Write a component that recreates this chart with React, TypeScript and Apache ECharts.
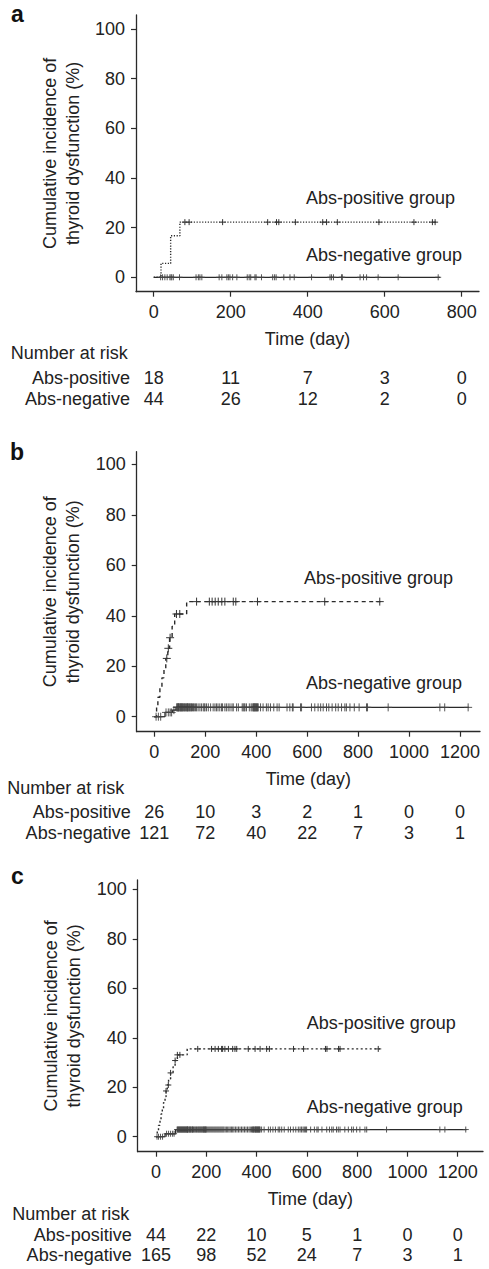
import React, { useEffect, useRef } from 'react';
import * as echarts from 'echarts';

// ---------- DATA ----------
const groupNames = ['Abs-positive', 'Abs-negative'];

// Panel a
const aTicks = [0, 200, 400, 600, 800];
const aPosSteps = [[19, 5.6], [44, 16.7], [68, 22.2]];
const aPosEnd = 735;
const aPosCensor = [81, 92, 179, 296, 319, 325, 368, 439, 449, 477, 585, 676, 724, 731];
const aNegSteps: number[][] = [];
const aNegEnd = 744;
const aNegCensor = [18, 23, 29, 35, 42, 45, 47, 51, 67, 110, 116, 120, 125, 170, 177, 190, 194, 198,
  205, 216, 243, 248, 252, 263, 266, 280, 309, 314, 318, 338, 354, 365,
  410, 458, 462, 467, 488, 490, 536, 545, 553, 583, 635, 739];
const aRiskPos = [18, 11, 7, 3, 0];
const aRiskNeg = [44, 26, 12, 2, 0];

// Panel b
const bTicks = [0, 200, 400, 600, 800, 1000, 1200];
const bPosSteps = [[9, 3.8], [14, 7.7], [22, 11.5], [30, 15.4], [38, 19.2], [45, 23.1], [53, 27.1], [60, 31.3], [70, 35.8], [80, 40.7], [127, 45.6]];
const bPosEnd = 896;
const bPosCensor = [49, 55, 62, 87, 100, 166, 216, 227, 239, 251, 265, 277, 310, 320, 405, 669, 885];
const bNegSteps = [[42, 1.7], [72, 2.6], [85, 3.7]];
const bNegEnd = 1235;
const bNegCensor = [7, 16, 25, 46, 55, 62, 68, 77, 88, 90, 92, 94, 95, 97, 100, 102, 104, 106, 108, 110, 112, 115, 118, 120,
  123, 126, 129, 130, 132, 135, 138, 141, 144, 146, 150, 154, 157, 162, 166, 172, 179, 185, 192, 196, 199,
  205, 212, 221, 231, 238, 244, 250, 257, 264, 268, 277, 283, 290, 297, 305, 310, 323, 330, 345, 349, 353, 356,
  362, 373, 380, 384, 388, 390, 392, 394, 396, 398,
  401, 403, 405, 408, 417, 427, 440, 447, 456, 469, 482, 490, 521, 532, 542, 545, 574, 578,
  617, 630, 643, 653, 663, 676, 685, 698, 712, 722, 735, 748, 754, 768, 785,
  804, 833, 837, 918, 1121, 1140, 1232];
const bRiskPos = [26, 10, 3, 2, 1, 0, 0];
const bRiskNeg = [121, 72, 40, 22, 7, 3, 1];

// Panel c
const cTicks = [0, 200, 400, 600, 800, 1000, 1200];
const cPosSteps = [[5, 2.3], [10, 4.6], [16, 6.9], [20, 9.2], [25, 11.5], [30, 13.8], [36, 16.2], [40, 18.5], [45, 20.9], [50, 23.3], [58, 25.8], [68, 28.3], [76, 30.8], [85, 33.1], [124, 35.5]];
const cPosEnd = 891;
const cPosCensor = [40, 49, 58, 76, 85, 95, 166, 221, 235, 248, 261, 265, 274, 288, 305, 314, 321, 367, 394, 414, 440, 451, 547, 587, 674, 680, 726, 732, 884];
const cNegSteps = [[36, 1.2], [78, 2.9]];
const cNegEnd = 1235;
const cNegCensor = [4, 10, 18, 26, 42, 50, 58, 66, 72,
  84, 86, 88, 90, 92, 94, 96, 98, 100, 102, 104, 106, 108, 110, 112, 114, 116, 118, 120, 122,
  124, 125, 126, 128, 131, 134, 135, 137, 140, 143, 145, 146, 149, 152, 155, 158, 161, 164, 167, 170, 172, 175, 178,
  180, 183, 186, 188, 190, 192, 194, 196, 198, 199,
  202, 206, 210, 214, 218, 222, 226, 230, 234, 238, 242, 246, 250, 254, 258, 262, 266, 270, 275, 280, 285, 290, 295, 300,
  305, 310, 316, 322, 328, 334, 340, 346, 352, 358, 364, 370, 375, 380, 384, 386, 388, 391, 394, 396, 398, 399,
  402, 404, 406, 408, 410, 412, 414, 420, 430, 447, 455, 465, 475, 486, 492, 500, 510, 526, 535, 546, 556, 566, 573, 579, 585, 590, 595, 599,
  615, 630, 640, 645, 660, 679, 690, 699, 705, 718, 725, 732, 751, 765, 778, 785, 798,
  811, 831, 838, 917, 1129, 1149, 1232];
const cRiskPos = [44, 22, 10, 5, 1, 0, 0];
const cRiskNeg = [165, 98, 52, 24, 7, 3, 1];

const yTicks = [0, 20, 40, 60, 80, 100];

// ---------- LAYOUT / STYLE ----------
const FONT = '"Liberation Sans", Arial, Helvetica, sans-serif';
const INK = '#222';
const LINE = '#2a2a2a';
const PLUS = 'path://M5 0L5 10M0 5L10 5';

const panels = [
  {
    letter: 'a', letterY: 15.3, letterX: 11,
    grid: { left: 136, top: 15, width: 343, height: 276.7 },
    x: [-46, 845], y: [-5.8, 105.6], ticks: aTicks,
    risk: { top: 367.8, height: 42 }, nr: [10.7, 352.7],
    posLabel: [306, 198], negLabel: [306, 255],
    pos: { steps: aPosSteps, end: aPosEnd, censor: aPosCensor, dash: [1.2, 1.6] },
    neg: { steps: aNegSteps, end: aNegEnd, censor: aNegCensor },
    riskPos: aRiskPos, riskNeg: aRiskNeg, mark: 6,
  },
  {
    letter: 'b', letterY: 453.7, letterX: 10,
    grid: { left: 136.7, top: 451.7, width: 343.3, height: 280 },
    x: [-69.1, 1278.5], y: [-5.94, 105.0], ticks: bTicks,
    risk: { top: 800.9, height: 43.2 }, nr: [7.3, 788.3],
    posLabel: [304, 577.7], negLabel: [306, 683.3],
    pos: { steps: bPosSteps, end: bPosEnd, censor: bPosCensor, dash: [4, 3.5] },
    neg: { steps: bNegSteps, end: bNegEnd, censor: bNegCensor },
    riskPos: bRiskPos, riskNeg: bRiskNeg, mark: 8,
  },
  {
    letter: 'c', letterY: 877, letterX: 11,
    grid: { left: 137.7, top: 880, width: 345.3, height: 271.7 },
    x: [-72.8, 1300.6], y: [-6.06, 103.8], ticks: cTicks,
    risk: { top: 1225, height: 40 }, nr: [12.3, 1214],
    posLabel: [306.7, 1023.3], negLabel: [306.7, 1107.3],
    pos: { steps: cPosSteps, end: cPosEnd, censor: cPosCensor, dash: [2, 2.5] },
    neg: { steps: cNegSteps, end: cNegEnd, censor: cNegCensor },
    riskPos: cRiskPos, riskNeg: cRiskNeg, mark: 6,
  },
];

function stepAt(steps: number[][], t: number) {
  let v = 0;
  for (const s of steps) if (s[0] <= t) v = s[1];
  return v;
}
function stepLine(steps: number[][], end: number) {
  const last = steps.length ? steps[steps.length - 1][1] : 0;
  return [[0, 0], ...steps, [end, last]];
}

function buildOption() {
  const grid: any[] = [];
  const xAxis: any[] = [];
  const yAxis: any[] = [];
  const series: any[] = [];
  const graphic: any[] = [];
  const txt = { fontFamily: FONT, fontSize: 18, color: INK };
  const plain = (v: number) => String(v);

  panels.forEach((p, i) => {
    const gi = i * 2;
    grid.push({ left: p.grid.left, top: p.grid.top, width: p.grid.width, height: p.grid.height });
    grid.push({ left: p.grid.left, top: p.risk.top, width: p.grid.width, height: p.risk.height });

    xAxis.push({
      gridIndex: gi, type: 'value', min: p.x[0], max: p.x[1],
      axisLine: { show: true, onZero: false, lineStyle: { color: LINE, width: 1.3 } },
      axisTick: { show: true, length: 5, customValues: p.ticks, lineStyle: { color: LINE, width: 1.2 } },
      axisLabel: { customValues: p.ticks, margin: 11, formatter: plain, ...txt },
      splitLine: { show: false },
      name: 'Time (day)', nameLocation: 'middle', nameGap: 38, nameTextStyle: { ...txt },
    });
    xAxis.push({ gridIndex: gi + 1, type: 'value', min: p.x[0], max: p.x[1], show: false });

    yAxis.push({
      gridIndex: gi, type: 'value', min: p.y[0], max: p.y[1],
      axisLine: { show: true, onZero: false, lineStyle: { color: LINE, width: 1.3 } },
      axisTick: { show: true, length: 5, customValues: yTicks, lineStyle: { color: LINE, width: 1.2 } },
      axisLabel: { customValues: yTicks, margin: 11, formatter: plain, ...txt },
      splitLine: { show: false },
      name: 'Cumulative incidence of\nthyroid dysfunction (%)', nameLocation: 'middle', nameGap: 52,
      nameTextStyle: { ...txt, lineHeight: 23 },
    });
    yAxis.push({
      gridIndex: gi + 1, type: 'category', data: groupNames, inverse: true,
      axisLine: { show: false }, axisTick: { show: false },
      axisLabel: { margin: 6, interval: 0, hideOverlap: false, ...txt },
    });

    // curves
    series.push({
      type: 'line', xAxisIndex: gi, yAxisIndex: gi, step: 'end', showSymbol: false, symbol: 'none',
      data: stepLine(p.neg.steps, p.neg.end),
      lineStyle: { color: LINE, width: 1.3 }, z: 2,
    });
    series.push({
      type: 'line', xAxisIndex: gi, yAxisIndex: gi, step: 'end', showSymbol: false, symbol: 'none',
      data: stepLine(p.pos.steps, p.pos.end),
      lineStyle: { color: LINE, width: 1.4, type: p.pos.dash }, z: 2,
    });
    // censor marks
    series.push({
      type: 'scatter', xAxisIndex: gi, yAxisIndex: gi, symbol: PLUS, symbolSize: p.mark,
      data: p.neg.censor.map((t) => [t, stepAt(p.neg.steps, t)]),
      itemStyle: { color: 'rgba(0,0,0,0)', borderColor: '#444', borderWidth: 0.9, opacity: 1 }, z: 3,
    });
    series.push({
      type: 'scatter', xAxisIndex: gi, yAxisIndex: gi, symbol: PLUS, symbolSize: p.mark,
      data: p.pos.censor.map((t) => [t, stepAt(p.pos.steps, t)]),
      itemStyle: { color: 'rgba(0,0,0,0)', borderColor: '#333', borderWidth: 1, opacity: 1 }, z: 3,
    });
    // number at risk
    const riskData: any[] = [];
    p.ticks.forEach((t, k) => {
      riskData.push([t, 0, p.riskPos[k]]);
      riskData.push([t, 1, p.riskNeg[k]]);
    });
    series.push({
      type: 'scatter', xAxisIndex: gi + 1, yAxisIndex: gi + 1, symbolSize: 1,
      itemStyle: { color: 'rgba(0,0,0,0)', opacity: 1 },
      data: riskData,
      label: {
        show: true, position: 'inside', formatter: (q: any) => String(q.value[2]),
        textBorderWidth: 0, textBorderColor: 'transparent', opacity: 1, ...txt,
      },
    });

    graphic.push({ type: 'text', left: p.letterX, top: p.letterY - 13, style: { text: p.letter, font: `bold 23px ${FONT}`, fill: '#111' } });
    graphic.push({ type: 'text', x: p.nr[0], y: p.nr[1], style: { text: 'Number at risk', font: `18px ${FONT}`, fill: INK, verticalAlign: 'middle' } });
    graphic.push({ type: 'text', x: p.posLabel[0], y: p.posLabel[1], style: { text: 'Abs-positive group', font: `18px ${FONT}`, fill: INK, verticalAlign: 'middle' } });
    graphic.push({ type: 'text', x: p.negLabel[0], y: p.negLabel[1], style: { text: 'Abs-negative group', font: `18px ${FONT}`, fill: INK, verticalAlign: 'middle' } });
  });

  return { animation: false, backgroundColor: '#fff', grid, xAxis, yAxis, series, graphic };
}

export default function App() {
  const ref = useRef<HTMLDivElement>(null);
  useEffect(() => {
    if (!ref.current) return;
    const chart = echarts.init(ref.current, undefined, { renderer: 'svg' });
    chart.setOption(buildOption() as any);
    return () => chart.dispose();
  }, []);
  return <div ref={ref} style={{ position: 'absolute', left: 0, top: 0, width: 489, height: 1269 }} />;
}
